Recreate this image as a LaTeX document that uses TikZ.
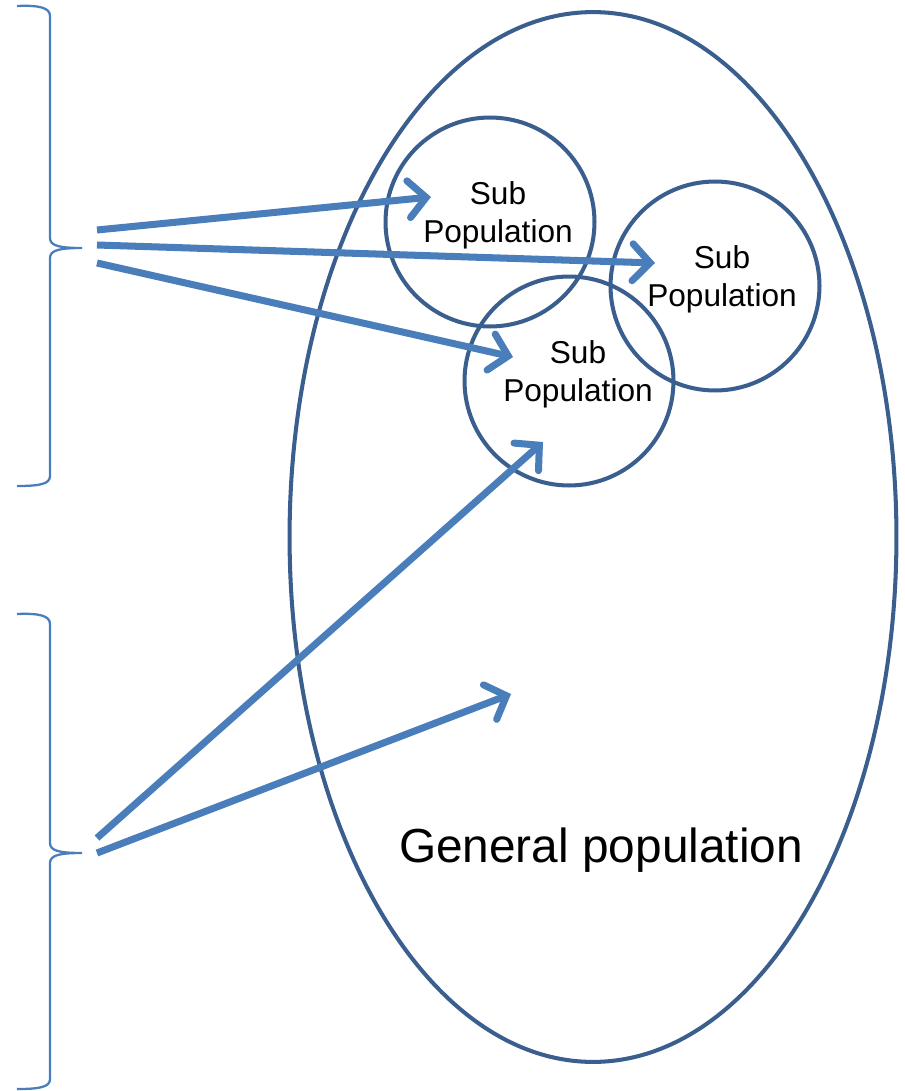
\documentclass[tikz,border=0pt]{standalone}
\usepackage{fontspec}
\setmainfont{Liberation Sans}
\usepackage{tikz}
\usetikzlibrary{
  arrows.meta,
  positioning,
  shapes.geometric,
}
\definecolor{outline}{HTML}{3A5F8F}
\definecolor{arrowblue}{HTML}{4A7EBB}

\begin{document}
\begin{tikzpicture}[
  x=0.02cm, y=-0.02cm,
  every node/.style={align=center},
  popcircle/.style={circle, draw=outline, line width=2.3pt, minimum size=4.18cm,
                    inner sep=0pt},
  poplabel/.style={font=\fontsize{18}{21.6}\selectfont},
  arrow/.style={draw=arrowblue, line width=4pt,
                -{Straight Barb[length=10pt, width=21pt, line cap=round]}},
  bracket/.style={draw=arrowblue, line width=1.3pt},
]
\useasboundingbox (0,0) rectangle (904,1091);

\node[ellipse, draw=outline, line width=2.3pt, minimum width=12.14cm,
      minimum height=21cm, inner sep=0pt] (general) at (593,537) {};
\node[font=\fontsize{27.2}{32}\selectfont] (genlabel) at (601,850) {General population};

\node[popcircle] (subA) at (490,222) {};
\node[popcircle] (subB) at (715,286) {};
\node[popcircle] (subC) at (569,381) {};
\node[poplabel] (labA) at (498,215) {Sub\\Population};
\node[poplabel] (labB) at (722,279) {Sub\\Population};
\node[poplabel] (labC) at (578,374) {Sub\\Population};

% braces
\draw[bracket] (17,6) .. controls (40,5) and (50,8) .. (50,16) -- (50,238)
  .. controls (50,246) and (60,248) .. (82,248)
  .. controls (60,248) and (50,250) .. (50,258) -- (50,476)
  .. controls (50,484) and (40,486) .. (17,486);
\draw[bracket] (17,614) .. controls (40,613) and (50,616) .. (50,624) -- (50,843)
  .. controls (50,851) and (60,853) .. (82,853)
  .. controls (60,853) and (50,855) .. (50,863) -- (50,1079)
  .. controls (50,1087) and (40,1089) .. (17,1089);

% arrow tails and tips
\coordinate (t1) at (97,230);
\coordinate (t2) at (97,245);
\coordinate (t3) at (97,263);
\coordinate (t4) at (97,838);
\coordinate (t5) at (97,853);
\coordinate (h1) at (431,197);
\coordinate (h2) at (655,263);
\coordinate (h3) at (513,357);
\coordinate (h4) at (543,442);
\coordinate (h5) at (511,694);

\draw[arrow] (t1) -- (h1);
\draw[arrow] (t2) -- (h2);
\draw[arrow] (t3) -- (h3);
\draw[arrow] (t4) -- (h4);
\draw[arrow] (t5) -- (h5);

\end{tikzpicture}
\end{document}
